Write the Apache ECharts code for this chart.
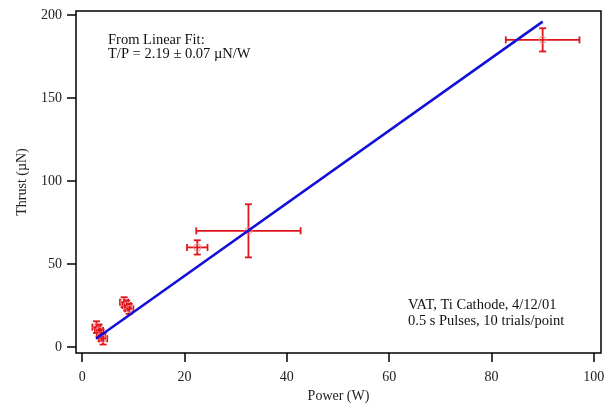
<!DOCTYPE html>
<html>
<head>
<meta charset="UTF-8">
<title>Thrust vs Power</title>
<script src="https://cdn.jsdelivr.net/npm/echarts@6/dist/echarts.min.js"></script>
<style>
  html, body { margin: 0; padding: 0; background: #fff; }
  #main { width: 611px; height: 404px; }
</style>
</head>
<body>
<div id="main"></div>
<script>
// measured points: power (W), thrust (uN), and their errors
var power    = [2.8, 3.3, 3.7, 4.1, 8.2, 8.7, 9.2, 22.5, 32.5, 90.0];
var thrust   = [12,  10,  7,   5,   27,  25,  23,  60,   70,   185];
var powerErr = [0.8, 0.8, 0.8, 0.8, 0.8, 0.8, 0.8, 2.0,  10.2, 7.2];
var thrustErr= [3.5, 3.5, 3.5, 3.5, 3,   3,   3,   4.3,  16,   7];

// linear fit line end points
var fitX = [2.7, 90];
var fitY = [5, 196];

var xTicks = [0, 20, 40, 60, 80, 100];
var yTicks = [0, 50, 100, 150, 200];

var serif = 'Liberation Serif';
var red = '#e0141c';

var pts = [];
for (var i = 0; i < power.length; i++) {
    pts.push([power[i], thrust[i], powerErr[i], thrustErr[i]]);
}
var fit = [];
for (var j = 0; j < fitX.length; j++) {
    fit.push([fitX[j], fitY[j]]);
}

var myChart = echarts.init(document.getElementById('main'));
var option = {
    animation: false,
    grid: {
        left: 76, top: 11, right: 10, bottom: 51,
        containLabel: false, outerBoundsMode: 'none',
        show: true, borderColor: '#000', borderWidth: 1.5, backgroundColor: '#fff'
    },
    xAxis: {
        type: 'value', min: -1.2, max: 101.4,
        name: 'Power (W)', nameLocation: 'middle', nameGap: 33,
        nameTextStyle: { fontFamily: serif, fontSize: 14, color: '#222' },
        axisLine: { show: false, onZero: false },
        splitLine: { show: false },
        axisTick: { show: true, inside: false, length: 9, customValues: xTicks, lineStyle: { color: '#000', width: 1.5 } },
        axisLabel: { customValues: xTicks, fontFamily: serif, fontSize: 14, color: '#222', margin: 17 }
    },
    yAxis: {
        type: 'value', min: -3.6, max: 202.4,
        name: 'Thrust (\u00b5N)', nameLocation: 'middle', nameGap: 47,
        nameTextStyle: { fontFamily: serif, fontSize: 14, color: '#222' },
        axisLine: { show: false, onZero: false },
        splitLine: { show: false },
        axisTick: { show: true, inside: false, length: 9, customValues: yTicks, lineStyle: { color: '#000', width: 1.5 } },
        axisLabel: { customValues: yTicks, fontFamily: serif, fontSize: 14, color: '#222', margin: 14 }
    },
    graphic: [
        { type: 'text', left: 108, top: 33, style: { text: 'From Linear Fit:', font: '14.5px "Liberation Serif"', fill: '#111' } },
        { type: 'text', left: 108, top: 47, style: { text: 'T/P = 2.19 \u00b1 0.07 \u00b5N/W', font: '14.5px "Liberation Serif"', fill: '#111' } },
        { type: 'text', left: 408, top: 298, style: { text: 'VAT, Ti Cathode, 4/12/01', font: '14.5px "Liberation Serif"', fill: '#111' } },
        { type: 'text', left: 408, top: 314, style: { text: '0.5 s Pulses, 10 trials/point', font: '14.5px "Liberation Serif"', fill: '#111' } }
    ],
    series: [
        {
            type: 'custom',
            data: pts,
            z: 3,
            renderItem: function (params, api) {
                var x = api.value(0), y = api.value(1), ex = api.value(2), ey = api.value(3);
                var c = api.coord([x, y]);
                var l = api.coord([x - ex, y]), r = api.coord([x + ex, y]);
                var t = api.coord([x, y + ey]), b = api.coord([x, y - ey]);
                var cap = 3.5;
                var st = { stroke: red, lineWidth: 1.8 };
                return {
                    type: 'group',
                    children: [
                        { type: 'line', shape: { x1: l[0], y1: l[1], x2: r[0], y2: r[1] }, style: st },
                        { type: 'line', shape: { x1: l[0], y1: l[1] - cap, x2: l[0], y2: l[1] + cap }, style: st },
                        { type: 'line', shape: { x1: r[0], y1: r[1] - cap, x2: r[0], y2: r[1] + cap }, style: st },
                        { type: 'line', shape: { x1: t[0], y1: t[1], x2: b[0], y2: b[1] }, style: st },
                        { type: 'line', shape: { x1: t[0] - cap, y1: t[1], x2: t[0] + cap, y2: t[1] }, style: st },
                        { type: 'line', shape: { x1: b[0] - cap, y1: b[1], x2: b[0] + cap, y2: b[1] }, style: st },
                        { type: 'circle', shape: { cx: c[0], cy: c[1], r: 3.5 }, style: { stroke: '#e88', fill: null, lineWidth: 1 } }
                    ]
                };
            }
        },
        {
            type: 'line',
            data: fit,
            z: 4,
            symbol: 'none',
            lineStyle: { color: '#1010d8', width: 2.5 }
        }
    ]
};
myChart.setOption(option);
</script>
</body>
</html>
